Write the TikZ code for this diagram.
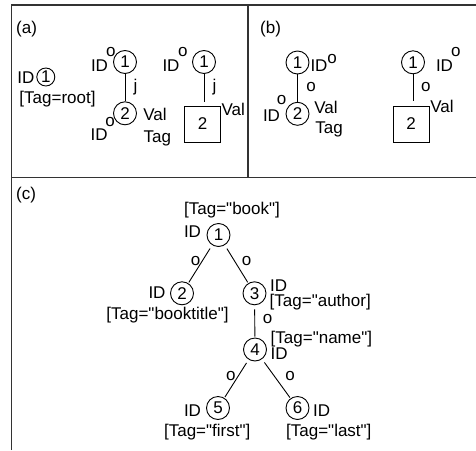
\documentclass[tikz,border=0pt]{standalone}
\usepackage{fontspec}
\setmainfont{Liberation Sans}[Ligatures=TeXOff]
\begin{document}
\begin{tikzpicture}[x=1pt,y=-1pt,
  every node/.style={font=\fontsize{17pt}{20pt}\selectfont},
  lbl/.style={anchor=base,inner sep=0pt},
  lblw/.style={anchor=base west,inner sep=0pt},
  vnode/.style={draw,circle,minimum size=23pt,inner sep=0pt,line width=0.9pt},
  vsmall/.style={draw,circle,minimum size=18pt,inner sep=0pt,line width=0.9pt},
  vbox/.style={draw,minimum size=36pt,inner sep=0pt,line width=0.9pt},
  edge/.style={line width=0.9pt},
  cedge/.style={line width=0.9pt,shorten >=1pt,shorten <=4pt},
  frame/.style={line width=1.2pt,draw=black!80}]
\useasboundingbox (0,0) rectangle (476,450);

% panel frame
\draw[frame] (11.5,450) -- (11.5,5) -- (476,5);
\draw[frame] (248,5) -- (248,177.5);
\draw[frame] (11.5,177.5) -- (476,177.5);

% panel captions
\node[lblw] (capa) at (16,33) {(a)};
\node[lblw] (capb) at (260,33) {(b)};
\node[lblw] (capc) at (16,199.5) {(c)};

% ---------- (a) ----------
\node[vsmall] (a0) at (45.8,77) {1};
\node[lbl] (a0id) at (25.8,83.3) {ID};
\node[lbl] (a0tag) at (57.5,103) {[Tag=root]};

\node[vnode] (a1) at (125,62) {1};
\node[vnode] (a2) at (125,113.3) {2};
\draw[edge] (a1) -- (a2);
\node[lbl] (a1id) at (99.5,71.7) {ID};
\node[lbl] (a1o) at (110.8,56.7) {o};
\node[lbl] (a1j) at (135.5,91.4) {j};
\node[lbl] (a2o) at (110,126.7) {o};
\node[lbl] (a2id) at (99.2,140) {ID};
\node[lbl] (a2val) at (155,120.7) {Val};
\node[lbl] (a2tag) at (157.3,142) {Tag};

\node[vnode] (a3) at (204,62) {1};
\node[vbox] (a4) at (202.5,124) {2};
\coordinate (a3end) at (204,101.7);
\draw[edge] (a3) -- (a3end);
\node[lbl] (a3id) at (171,71.7) {ID};
\node[lbl] (a3o) at (182.8,56.7) {o};
\node[lbl] (a3j) at (214.5,91.4) {j};
\node[lbl] (a4val) at (233.3,115) {Val};

% ---------- (b) ----------
\node[vnode] (b1) at (297.5,62.5) {1};
\node[vnode] (b2) at (297.5,113.8) {2};
\draw[edge] (b1) -- (b2);
\node[lbl] (b1id) at (319,71.7) {ID};
\node[lbl] (b1o) at (332,63.3) {o};
\node[lbl] (b1e) at (311,91.7) {o};
\node[lbl] (b2id) at (271.5,121) {ID};
\node[lbl] (b2o) at (281.5,104) {o};
\node[lbl] (b2val) at (326,113.3) {Val};
\node[lbl] (b2tag) at (329,133) {Tag};

\node[vnode] (b3) at (413,62.3) {1};
\node[vbox] (b4) at (411,124) {2};
\coordinate (b3end) at (413,100.5);
\draw[edge] (b3) -- (b3end);
\node[lbl] (b3id) at (444.5,71.7) {ID};
\node[lbl] (b3o) at (455.8,56.7) {o};
\node[lbl] (b3e) at (425.8,91.7) {o};
\node[lbl] (b4val) at (442,112.5) {Val};

% ---------- (c) ----------
\node[vnode] (c1) at (218.5,235) {1};
\node[vnode] (c2) at (182,293.3) {2};
\node[vnode] (c3) at (254.5,293.3) {3};
\node[vnode] (c4) at (255,349.5) {4};
\node[vnode] (c5) at (218,408) {5};
\node[vnode] (c6) at (297.5,408) {6};
\draw[cedge] (c1) -- (c2);
\draw[cedge] (c1) -- (c3);
\draw[cedge] (c3) -- (c4);
\draw[cedge] (c4) -- (c5);
\draw[cedge] (c4) -- (c6);

\node[lbl] (c1tag) at (232,214.5) {[Tag="book"]};
\node[lbl] (c1id) at (192.5,237.5) {ID};
\node[lbl] (c12o) at (195.5,265) {o};
\node[lbl] (c13o) at (246.5,265) {o};
\node[lbl] (c2id) at (157,298) {ID};
\node[lbl] (c2tag) at (167.5,319.5) {[Tag="booktitle"]};
\node[lbl] (c3id) at (278.7,291) {ID};
\node[lblw] (c3tag) at (269.5,306) {[Tag="author]};
\node[lbl] (c34o) at (267.5,323) {o};
\node[lblw] (c4tag) at (270.5,343) {[Tag="name"]};
\node[lbl] (c4id) at (279.2,359) {ID};
\node[lbl] (c45o) at (230.8,380) {o};
\node[lbl] (c46o) at (290,380) {o};
\node[lbl] (c5id) at (192.5,416.7) {ID};
\node[lbl] (c5tag) at (207.2,436.5) {[Tag="first"]};
\node[lbl] (c6id) at (321.7,416.7) {ID};
\node[lbl] (c6tag) at (328.8,436.5) {[Tag="last"]};
\end{tikzpicture}
\end{document}
